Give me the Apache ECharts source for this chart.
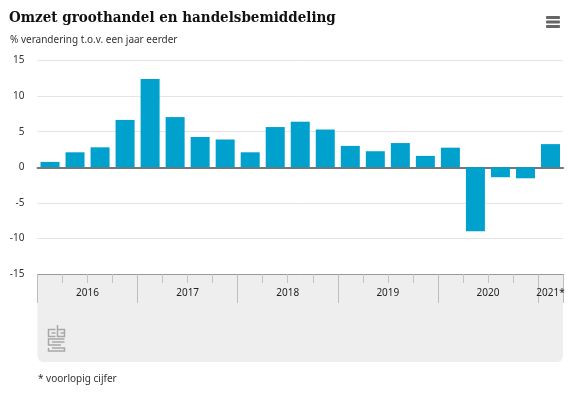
<!DOCTYPE html>
<html>
<head>
<meta charset="utf-8">
<style>html,body{margin:0;padding:0;background:#fff}#c{width:572px;height:393px}</style>
<script src="https://cdn.jsdelivr.net/npm/echarts@6/dist/echarts.min.js"></script>
</head>
<body>
<div id="c"></div>
<script>
const quarters = ['2016K1','2016K2','2016K3','2016K4','2017K1','2017K2','2017K3','2017K4','2018K1','2018K2','2018K3','2018K4','2019K1','2019K2','2019K3','2019K4','2020K1','2020K2','2020K3','2020K4','2021K1'];
const values = [0.75,2.1,2.8,6.65,12.4,7.05,4.25,3.9,2.1,5.65,6.4,5.3,3.0,2.25,3.4,1.6,2.75,-9.0,-1.4,-1.55,3.25];
const yearLabels = ['2016','2017','2018','2019','2020','2021*'];
const yearCenters = [2,6,10,14,18,20.5];
const yearTicks = [0,4,8,12,16,20,21];
const quarterTicks = [1,2,3,5,6,7,9,10,11,13,14,15,17,18,19];
const titleText = 'Omzet groothandel en handelsbemiddeling';
const subtitleText = '% verandering t.o.v. een jaar eerder';
const noteText = '* voorlopig cijfer';

const sans = '"Noto Sans", sans-serif';
const logoColor = '#a8a8a8';
const chart = echarts.init(document.getElementById('c'), null, {renderer:'canvas'});
function rect(x,y,w,h,fill,r){return {type:'rect',silent:true,z:-5,shape:{x,y,width:w,height:h,r:r||0},style:{fill}};}
function logoLine(points){return {type:'polyline',silent:true,z:-4,shape:{points},style:{fill:'none',stroke:logoColor,lineWidth:1.5}};}
chart.setOption({
  animation:false,
  backgroundColor:'#fff',
  textStyle:{fontFamily:sans},
  grid:{left:37.5,right:9,top:60.5,height:213.5,containLabel:false},
  graphic:[
    rect(37.5,274,525.5,88,'#eeeeee',[0,0,6,6]),
    rect(546,16,14,3,'#666666',1),
    rect(546,20.5,14,3,'#666666',1),
    rect(546,25,14,3,'#666666',1),
    {type:'text',silent:true,left:9,top:11,style:{text:titleText,font:'bold 15px "DejaVu Serif Condensed", "DejaVu Serif", serif',fill:'#111111'}},
    {type:'text',silent:true,left:10,top:35,style:{text:subtitleText,font:'10px '+sans,fill:'#333333'}},
    {type:'text',silent:true,left:38,top:374,style:{text:noteText,font:'10px '+sans,fill:'#333333'}},
    logoLine([[55.5,329.5],[48.5,329.5],[48.5,336.5],[55.5,336.5]]),
    logoLine([[55.5,333],[51.5,333]]),
    logoLine([[57.5,325],[57.5,336.5],[64.5,336.5],[64.5,329.5],[57.5,329.5]]),
    logoLine([[60.5,333],[64.5,333]]),
    logoLine([[64.5,339],[48.5,339],[48.5,345],[61,345]]),
    logoLine([[64.5,342],[52,342]]),
    logoLine([[52,348],[64.5,348],[64.5,351],[48.5,351],[48.5,348]])
  ],
  xAxis:[
    {type:'category',data:quarters,position:'bottom',
      axisLine:{onZero:true,lineStyle:{color:'#777777',width:2}},axisTick:{show:false},axisLabel:{show:false},splitLine:{show:false}},
    {type:'value',min:0,max:21,position:'bottom',
      axisLine:{onZero:false,show:true,lineStyle:{color:'#999999',width:1}},
      axisTick:{show:true,inside:false,length:9,customValues:quarterTicks,lineStyle:{color:'#c4c4c4'}},
      axisLabel:{show:false},splitLine:{show:false}},
    {type:'value',min:0,max:21,position:'bottom',
      axisLine:{onZero:false,show:false},
      axisTick:{show:true,length:29,customValues:yearTicks,lineStyle:{color:'#bdbdbd'}},
      axisLabel:{show:true,customValues:yearCenters,margin:14,fontSize:10,color:'#222222',fontFamily:sans,
        hideOverlap:false,showMinLabel:true,showMaxLabel:true,
        formatter:function(v){return yearLabels[yearCenters.indexOf(v)];}},
      splitLine:{show:false}}
  ],
  yAxis:{type:'value',min:-15,max:15,interval:5,
    axisLine:{show:false},axisTick:{show:false},
    axisLabel:{margin:13,fontSize:10,color:'#333333',fontFamily:sans,padding:[5,0,0,0]},
    splitLine:{lineStyle:{color:'#e4e4e4',width:1}}},
  series:[{type:'bar',data:values,xAxisIndex:0,barWidth:19,itemStyle:{color:'#00a1cd'},z:1}]
});
</script>
</body>
</html>
